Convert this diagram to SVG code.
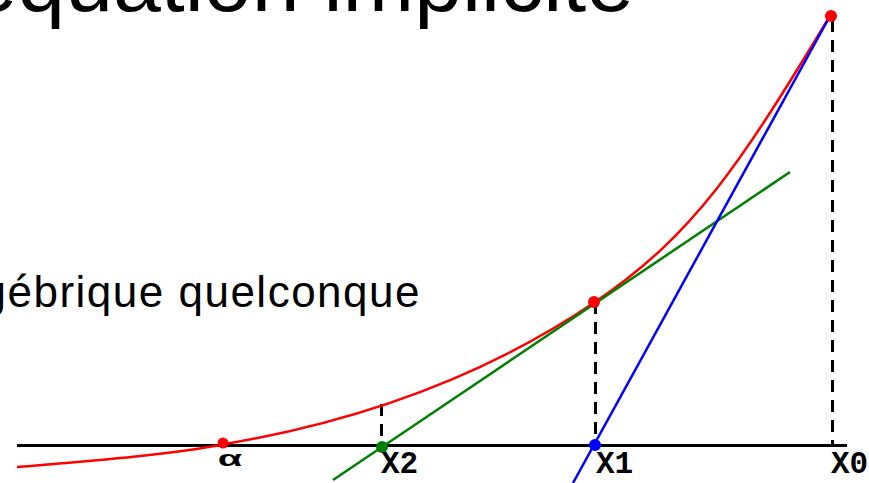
<svg xmlns="http://www.w3.org/2000/svg" width="869" height="483" viewBox="0 0 869 483">
<style>
.title{font-family:"Liberation Sans",Arial,sans-serif;fill:#000}
.lbl{font-family:"Liberation Mono","Courier New",monospace;font-weight:bold;fill:#000}
.dash{stroke:#000;stroke-width:3;stroke-dasharray:12 8;fill:none}
</style>
<rect width="869" height="483" fill="#fff"/>
<text class="title" x="634" y="11" font-size="86" text-anchor="end">équation implicite</text>
<text class="title" x="421" y="307" font-size="44" letter-spacing="1.5" text-anchor="end">algébrique quelconque</text>
<g id="connectors">
<line x1="17" y1="445.5" x2="847" y2="445.5" stroke="#000" stroke-width="3"/>
<line class="dash" x1="381.5" y1="404" x2="381.5" y2="445"/>
<line class="dash" x1="595.5" y1="302" x2="595.5" y2="445"/>
<line class="dash" x1="832.5" y1="20" x2="832.5" y2="445"/>
<path fill="none" stroke="#ff0000" stroke-width="2.5" d="M17,467 C90,461 170,455 225,444 C345,423.6 475,383.5 595,302 C695,234.1 740,164.5 830,16"/>
<line x1="333" y1="480" x2="790" y2="172" stroke="#008000" stroke-width="2.5"/>
<line x1="573" y1="483" x2="830" y2="16" stroke="#0000ff" stroke-width="2.5"/>
</g>
<g id="alpha"><circle cx="223" cy="443" r="5.5" fill="#ff0000"/><text class="lbl" font-size="22" transform="translate(218,466) scale(1.8,1)">α</text></g>
<g id="x2"><circle cx="382" cy="447" r="6" fill="#008000"/><text class="lbl" x="381" y="473" font-size="31">X2</text></g>
<g id="x1"><circle cx="595" cy="445" r="6" fill="#0000ff"/><circle cx="594" cy="302" r="6" fill="#ff0000"/><text class="lbl" x="596" y="473" font-size="31">X1</text></g>
<g id="x0"><circle cx="831" cy="16" r="6" fill="#ff0000"/><text class="lbl" x="831" y="473" font-size="31">X0</text></g>
</svg>
